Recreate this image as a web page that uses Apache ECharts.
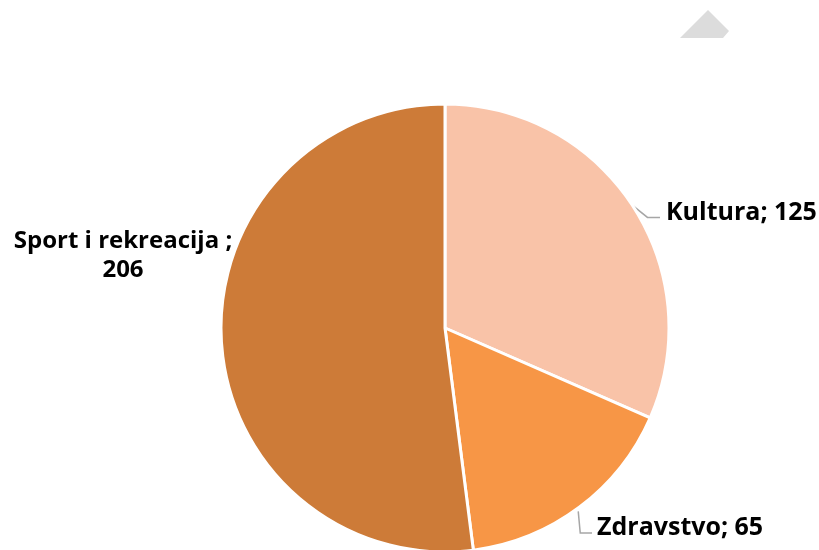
<!DOCTYPE html>
<html><head><meta charset="utf-8">
<script src="https://cdn.jsdelivr.net/npm/echarts@6/dist/echarts.min.js"></script>
<style>html,body{margin:0;padding:0;background:#fff}#c{width:819px;height:550px}</style>
</head><body><div id="c"></div>
<script>
const categories = ['Kultura', 'Zdravstvo', 'Sport i rekreacija '];
const values = [125, 65, 206];
const colors = ['#F9C3A8', '#F79646', '#CD7B38'];

const chart = echarts.init(document.getElementById('c'));
const labelPos = [
  {x: 666, y: 213, align: 'left'},
  {x: 597, y: 528, align: 'left'},
  {x: 123, y: 256, align: 'center'}
];
chart.setOption({
  animation: false,
  graphic: [{
    type: 'polygon',
    shape: {points: [[680, 38], [708, 10], [729, 31], [723, 38]]},
    style: {fill: '#dcdcdc'}
  }],
  series: [{
    type: 'pie',
    center: [445, 328],
    radius: 224,
    startAngle: 90,
    clockwise: true,
    itemStyle: {borderColor: '#fff', borderWidth: 3},
    label: {
      show: true,
      formatter: '{b}; {c}',
      fontFamily: 'Open Sans',
      fontWeight: 'bold',
      fontSize: 25,
      color: '#000',
      lineHeight: 29,
      overflow: 'none',
      width: 400
    },
    labelLine: {show: true, lineStyle: {color: '#a6a6a6', width: 1.5}},
    labelLayout: function (p) {
      const i = p.dataIndex;
      const lp = labelPos[i];
      const res = {x: lp.x, y: lp.y, align: lp.align, verticalAlign: 'middle'};
      const s = p.labelLinePoints ? p.labelLinePoints[0] : null;
      if (i === 0 && s) {
        res.labelLinePoints = [s, [s[0] + 15, s[1] + 12], [lp.x - 6, s[1] + 12]];
      } else if (i === 1 && s) {
        res.labelLinePoints = [[s[0] - 1, s[1] + 4], [s[0] + 1, lp.y + 5], [lp.x - 5, lp.y + 5]];
      } else {
        res.labelLinePoints = null;
      }
      return res;
    },
    data: categories.map((c, i) => ({
      name: c, value: values[i],
      itemStyle: {color: colors[i]},
      label: i === 2 ? {formatter: '{b};\n{c}', align: 'center', fontSize: 24} : undefined,
      labelLine: i === 2 ? {show: false} : undefined
    }))
  }]
});
</script></body></html>
